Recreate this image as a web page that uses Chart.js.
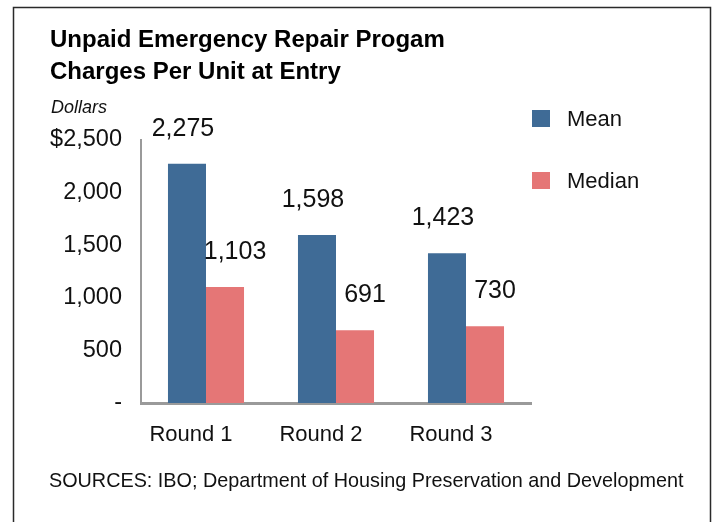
<!DOCTYPE html>
<html>
<head>
<meta charset="utf-8">
<script src="https://cdn.jsdelivr.net/npm/chart.js@4"></script>
<style>
  html, body { margin: 0; padding: 0; background: #fff; }
  #wrap { width: 717px; height: 522px; position: relative; }
</style>
</head>
<body>
<div id="wrap"><canvas id="myChart" width="717" height="522"></canvas></div>
<script>
// chart data
const rounds = ['Round 1', 'Round 2', 'Round 3'];
const meanValues = [2275, 1598, 1423];
const medianValues = [1103, 691, 730];
const seriesNames = ['Mean', 'Median'];
const yTicks = [0, 500, 1000, 1500, 2000, 2500];

const titleLines = ['Unpaid Emergency Repair Progam', 'Charges Per Unit at Entry'];
const unitLabel = 'Dollars';
const sourceNote = 'SOURCES: IBO; Department of Housing Preservation and Development';

const FONT = '"Liberation Sans", Arial, sans-serif';

function fmt(v) {
  return v.toLocaleString('en-US');
}

// frame, titles, source line, legend and value labels
const decorations = {
  id: 'decorations',
  afterDraw(chart) {
    const ctx = chart.ctx;
    ctx.save();

    // frame (open at the bottom)
    ctx.strokeStyle = '#2a2a2a';
    ctx.lineWidth = 1.5;
    ctx.beginPath();
    ctx.moveTo(13.5, 522);
    ctx.lineTo(13.5, 7.5);
    ctx.lineTo(710.5, 7.5);
    ctx.lineTo(710.5, 522);
    ctx.stroke();

    ctx.fillStyle = '#000';
    ctx.textAlign = 'left';
    ctx.textBaseline = 'alphabetic';
    ctx.font = 'bold 24px ' + FONT;
    ctx.fillText(titleLines[0], 50, 47);
    ctx.fillText(titleLines[1], 50, 79);

    ctx.font = 'italic 18px ' + FONT;
    ctx.fillStyle = '#111';
    ctx.fillText(unitLabel, 51, 113);

    ctx.font = '19.8px ' + FONT;
    ctx.fillText(sourceNote, 49, 487);

    // legend
    chart.data.datasets.forEach((ds, i) => {
      const y = 110 + i * 62;
      ctx.fillStyle = ds.backgroundColor;
      ctx.fillRect(532, y, 18, 17);
      ctx.fillStyle = '#111';
      ctx.font = '22px ' + FONT;
      ctx.textBaseline = 'middle';
      ctx.fillText(ds.label, 567, y + 10);
    });

    ctx.restore();
  },
  afterDatasetsDraw(chart) {
    const ctx = chart.ctx;
    ctx.save();
    ctx.font = '25px ' + FONT;
    ctx.fillStyle = '#111';
    ctx.textAlign = 'center';
    ctx.textBaseline = 'middle';
    chart.data.datasets.forEach((ds, i) => {
      const meta = chart.getDatasetMeta(i);
      const shift = i === 0 ? -4 : 10;
      meta.data.forEach((bar, j) => {
        ctx.fillText(fmt(ds.data[j]), bar.x + shift, bar.y - 35);
      });
    });
    ctx.restore();
  }
};

const ctx = document.getElementById('myChart');
new Chart(ctx, {
  type: 'bar',
  data: {
    labels: rounds,
    datasets: [
      { label: seriesNames[0], data: meanValues, backgroundColor: '#3f6b96' },
      { label: seriesNames[1], data: medianValues, backgroundColor: '#e57676' }
    ]
  },
  options: {
    responsive: false,
    animation: false,
    events: [],
    layout: { padding: { top: 140, right: 186, bottom: 59, left: 0 } },
    datasets: {
      bar: { barPercentage: 1, categoryPercentage: 0.585 }
    },
    plugins: {
      legend: { display: false },
      tooltip: { enabled: false },
      title: { display: false }
    },
    scales: {
      x: {
        grid: { display: false, drawTicks: false },
        border: { display: true, color: '#9a9a9a', width: 3 },
        ticks: {
          font: { family: FONT, size: 22 },
          color: '#111',
          padding: 19,
          labelOffset: -15,
          maxRotation: 0
        },
        afterFit(scale) { scale.height = 60; }
      },
      y: {
        min: 0,
        max: 2500,
        afterBuildTicks(scale) {
          scale.ticks = yTicks.map(v => ({ value: v }));
        },
        grid: { display: false, drawTicks: false },
        border: { display: true, color: '#9a9a9a', width: 2 },
        ticks: {
          font: { family: FONT, size: 23.5 },
          color: '#111',
          padding: 19,
          callback(v) {
            if (v === 0) return '-';
            if (v === yTicks[yTicks.length - 1]) return '$' + fmt(v);
            return fmt(v);
          }
        },
        afterFit(scale) { scale.width = 141; }
      }
    }
  },
  plugins: [decorations]
});
</script>
</body>
</html>
